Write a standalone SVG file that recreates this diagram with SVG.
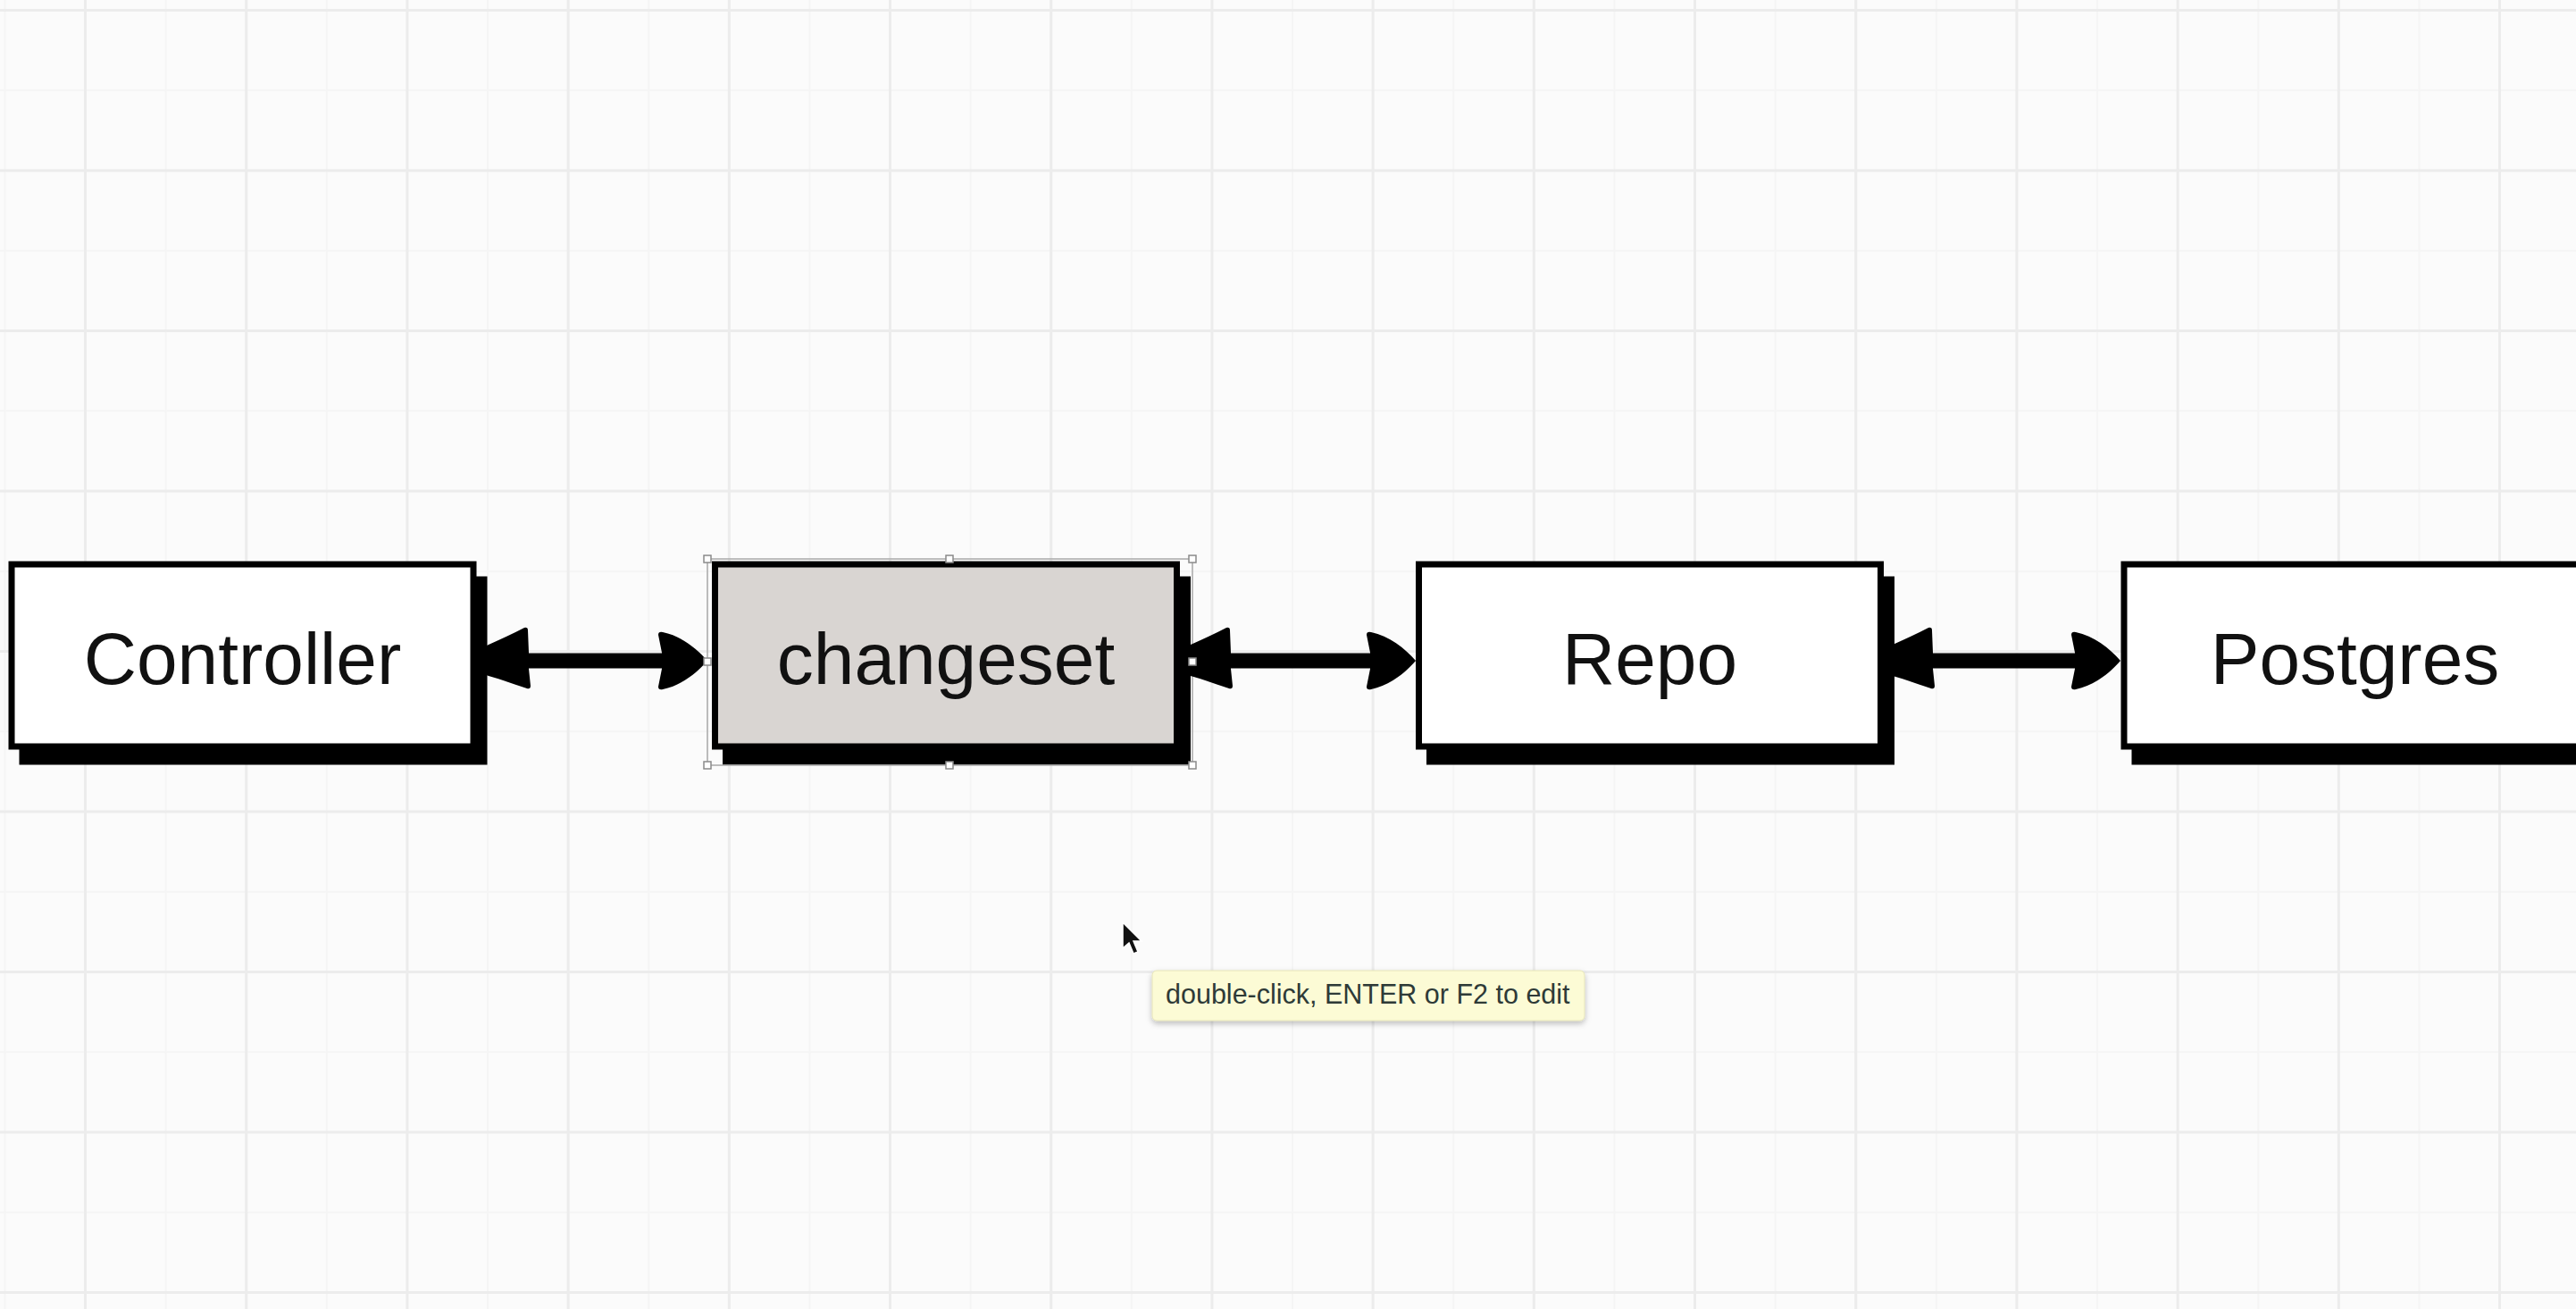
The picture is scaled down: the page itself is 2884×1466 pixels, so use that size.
<svg xmlns="http://www.w3.org/2000/svg" xmlns:xlink="http://www.w3.org/1999/xlink" width="2884" height="1466" viewBox="0 0 2884 1466">
<style>
.bg{fill:#fbfbfb}
.gmaj{stroke:#ececec;stroke-width:3;fill:none}
.gmin{stroke:#f5f5f5;stroke-width:2;fill:none}
.shadow{fill:#000;stroke:#000;stroke-width:7}
.box{fill:#fff;stroke:#000;stroke-width:7}
.box.sel{fill:#d9d5d2}
.label{font-family:"Liberation Sans",Arial,sans-serif;font-size:82px;fill:#111;text-anchor:middle}
.shaft{stroke:#000;stroke-width:17;fill:none}
.head{fill:#000}
.handle{fill:#fff;stroke:#8a8a8a;stroke-width:1.5}
.selframe{fill:none;stroke:#a8a8a8;stroke-width:1.5}
.tip{fill:#fcfbd5;stroke:#e6e4b8;stroke-width:1}
.tiptext{font-family:"Liberation Sans",Arial,sans-serif;font-size:30.5px;fill:#2e3a37}
</style>
<defs>
<path id="ahEnd" class="head" d="M0,0 C-12,-14 -30,-28 -50,-32 Q-55,-33 -55,-29 L-51,-9 L-51,9 L-55,29 Q-55,33 -50,32 C-30,28 -12,14 0,0 Z"/>
<path id="ahStart" class="head" d="M-8,-14 L0,-18 C14,-24 28,-31 40,-37 Q44,-38 44,-34 L45,-9 L45,9 L47,28 Q47,32 43,31 C28,26 14,21 0,17 L-8,14 Z"/>
<filter id="tipShadow" x="-10%" y="-20%" width="120%" height="160%">
<feDropShadow dx="0" dy="3" stdDeviation="3" flood-color="#000" flood-opacity="0.25"/>
</filter>
</defs>
<rect class="bg" x="0" y="0" width="2884" height="1466"/>
<g id="grid">
<path class="gmin" d="M5.4,0V1466M185.6,0V1466M365.8,0V1466M546,0V1466M726.2,0V1466M906.4,0V1466M1086.6,0V1466M1266.8,0V1466M1447,0V1466M1627.2,0V1466M1807.4,0V1466M1987.6,0V1466M2167.8,0V1466M2348,0V1466M2528.2,0V1466M2708.4,0V1466M0,101.2H2884M0,280.7H2884M0,460.2H2884M0,639.7H2884M0,819.2H2884M0,998.7H2884M0,1178.2H2884M0,1357.7H2884"/>
<path class="gmaj" d="M95.5,0V1466M275.7,0V1466M455.9,0V1466M636.1,0V1466M816.3,0V1466M996.5,0V1466M1176.7,0V1466M1356.9,0V1466M1537.1,0V1466M1717.3,0V1466M1897.5,0V1466M2077.7,0V1466M2257.9,0V1466M2438.1,0V1466M2618.3,0V1466M2798.5,0V1466M0,11.5H2884M0,191H2884M0,370.5H2884M0,550H2884M0,729.5H2884M0,909H2884M0,1088.5H2884M0,1268H2884M0,1447.5H2884"/>
</g>
<g id="node-controller">
<rect class="shadow" x="25" y="649" width="517" height="204"/>
<rect class="box" x="13" y="632" width="517" height="204"/>
<text class="label" x="271.5" y="766">Controller</text>
</g>
<g id="node-changeset">
<rect class="shadow" x="812.5" y="649" width="517" height="204"/>
<rect class="box sel" x="800.5" y="632" width="517" height="204"/>
<text class="label" x="1059" y="766">changeset</text>
<rect class="selframe" x="792" y="626" width="543" height="231"/>
<rect class="handle" x="788" y="622" width="8" height="8"/>
<rect class="handle" x="1059" y="622" width="8" height="8"/>
<rect class="handle" x="1331" y="622" width="8" height="8"/>
<rect class="handle" x="788" y="853" width="8" height="8"/>
<rect class="handle" x="1059" y="853" width="8" height="8"/>
<rect class="handle" x="1331" y="853" width="8" height="8"/>
</g>
<g id="node-repo">
<rect class="shadow" x="1600.5" y="649" width="517" height="204"/>
<rect class="box" x="1588.5" y="632" width="517" height="204"/>
<text class="label" x="1847" y="766">Repo</text>
</g>
<g id="node-postgres">
<rect class="shadow" x="2390" y="649" width="517" height="204"/>
<rect class="box" x="2378" y="632" width="517" height="204"/>
<text class="label" x="2636.5" y="766">Postgres</text>
</g>
<g id="connectors">
<g id="edge-controller-changeset">
<line class="shaft" x1="577" y1="740" x2="752" y2="740"/>
<use xlink:href="#ahStart" href="#ahStart" transform="translate(547,740)"/>
<use xlink:href="#ahEnd" href="#ahEnd" transform="translate(792,740)"/>
</g>
<g id="edge-changeset-repo">
<line class="shaft" x1="1363" y1="740" x2="1545" y2="740"/>
<use xlink:href="#ahStart" href="#ahStart" transform="translate(1333,740)"/>
<use xlink:href="#ahEnd" href="#ahEnd" transform="translate(1585,740)"/>
</g>
<g id="edge-repo-postgres">
<line class="shaft" x1="2149" y1="740" x2="2334" y2="740"/>
<use xlink:href="#ahStart" href="#ahStart" transform="translate(2119,740)"/>
<use xlink:href="#ahEnd" href="#ahEnd" transform="translate(2374,740)"/>
</g>
</g>
<g id="edge-handles">
<rect class="handle" x="788" y="737" width="8" height="8"/>
<rect class="handle" x="1331" y="737" width="8" height="8"/>
</g>
<g id="cursor">
<path d="M1257,1033 L1257,1062 L1264,1056 L1269,1068 L1274,1066 L1269,1054 L1278,1054 Z" fill="#111" stroke="#fff" stroke-width="1.5"/>
</g>
<g id="tooltip">
<rect class="tip" x="1290" y="1087" width="484" height="56" rx="5" filter="url(#tipShadow)"/>
<text class="tiptext" x="1305" y="1124">double-click, ENTER or F2 to edit</text>
</g>
</svg>
